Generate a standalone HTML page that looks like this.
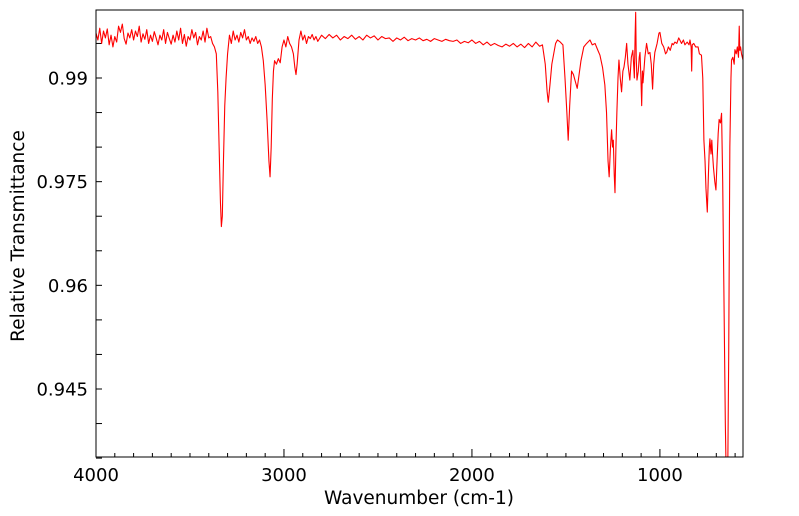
<!DOCTYPE html>
<html><head><meta charset="utf-8"><style>
html,body{margin:0;padding:0;background:#fff;}
svg{display:block;font-family:"DejaVu Sans","Liberation Sans",sans-serif;}
</style></head><body>
<svg id="chart" width="799" height="516" xmlns="http://www.w3.org/2000/svg">
<defs><clipPath id="clip"><rect x="96" y="10" width="647" height="447"/></clipPath></defs>
<g id="yticks"></g>
<g id="xticks"></g>
<path id="spectrum" clip-path="url(#clip)" fill="none" stroke="#ff0000" stroke-width="1.1" stroke-linejoin="round"/>
<rect x="96" y="10" width="647" height="447" fill="none" stroke="#000" stroke-width="1"/>
<text x="419" y="504" text-anchor="middle" font-size="18.5">Wavenumber (cm-1)</text>
<text x="0" y="0" transform="translate(24,236) rotate(-90)" text-anchor="middle" font-size="18.5">Relative Transmittance</text>
</svg>
<script>
const wavenumbers = [4000,3990,3980,3970,3960,3950,3940,3930,3920,3910,3900,3890,3880,3870,3860,3850,3840,3830,3820,3810,3800,3790,3780,3770,3760,3750,3740,3730,3720,3710,3700,3690,3680,3670,3660,3650,3640,3630,3620,3610,3600,3590,3580,3570,3560,3550,3540,3530,3520,3510,3500,3490,3480,3470,3460,3450,3440,3430,3420,3410,3400,3390,3380,3370,3360,3352,3345,3338,3333,3328,3322,3315,3308,3300,3290,3280,3270,3260,3250,3240,3230,3220,3210,3200,3190,3180,3170,3160,3150,3140,3130,3120,3110,3100,3090,3080,3074,3068,3062,3056,3050,3040,3030,3020,3010,3000,2990,2980,2970,2960,2950,2942,2936,2930,2920,2910,2900,2890,2880,2870,2860,2850,2840,2830,2820,2800,2780,2760,2740,2720,2700,2680,2660,2640,2620,2600,2580,2560,2540,2520,2500,2480,2460,2440,2420,2400,2380,2360,2340,2320,2300,2280,2260,2240,2220,2200,2180,2160,2140,2120,2100,2080,2060,2040,2020,2000,1980,1960,1940,1920,1900,1880,1860,1840,1820,1800,1780,1760,1740,1720,1700,1680,1660,1640,1625,1610,1600,1594,1585,1575,1565,1555,1545,1530,1516,1505,1495,1488,1480,1470,1460,1450,1440,1430,1420,1405,1390,1372,1360,1345,1330,1319,1305,1293,1284,1276,1270,1263,1257,1252,1248,1243,1239,1234,1229,1223,1218,1211,1204,1197,1191,1184,1177,1170,1160,1152,1144,1136,1132,1129,1126,1122,1115,1110,1106,1101,1097,1093,1090,1080,1071,1062,1053,1046,1039,1033,1027,1015,1005,1000,990,980,970,964,955,945,935,929,920,910,900,894,885,875,867,855,845,840,834,831,828,820,810,797,790,779,772,766,760,755,748,742,737,734,728,724,720,715,708,702,696,690,685,678,672,666,660,652,646,640,634,628,622,619,612,605,601,594,588,582,578,575,571,566,558];
const transmittance = [.9965,.9955,.9972,.9950,.9968,.9958,.9971,.9948,.9962,.9945,.9960,.9952,.9975,.9966,.9978,.9957,.9949,.9965,.9958,.9970,.9955,.9968,.9960,.9975,.9952,.9964,.9956,.9970,.9950,.9962,.9953,.9967,.9958,.9948,.9962,.9955,.9970,.9950,.9966,.9957,.9949,.9962,.9952,.9968,.9955,.9972,.9950,.9963,.9946,.9960,.9955,.9970,.9958,.9966,.9948,.9960,.9955,.9968,.9952,.9972,.9958,.9960,.9950,.9945,.9935,.9880,.9800,.9720,.9685,.9700,.9780,.9860,.9900,.9935,.9962,.9950,.9968,.9955,.9962,.9952,.9966,.9958,.9970,.9955,.9960,.9950,.9958,.9953,.9960,.9950,.9955,.9945,.9925,.9890,.9840,.9780,.9757,.9800,.9870,.9910,.9925,.9920,.9928,.9922,.9945,.9955,.9945,.9960,.9950,.9945,.9935,.9915,.9905,.9920,.9955,.9968,.9955,.9962,.9950,.9960,.9957,.9963,.9955,.9960,.9953,.9962,.9957,.9963,.9958,.9962,.9955,.9960,.9957,.9962,.9956,.9960,.9955,.9962,.9958,.9961,.9955,.9960,.9957,.9958,.9953,.9958,.9955,.9959,.9954,.9957,.9955,.9958,.9954,.9956,.9953,.9957,.9955,.9953,.9956,.9954,.9953,.9955,.9950,.9953,.9951,.9955,.9950,.9953,.9948,.9952,.9947,.9950,.9947,.9945,.9949,.9946,.9950,.9945,.9949,.9944,.9950,.9945,.9952,.9946,.9948,.9920,.9880,.9865,.9890,.9920,.9935,.9950,.9955,.9952,.9948,.9900,.9850,.9810,.9860,.9910,.9905,.9895,.9885,.9905,.9925,.9945,.9950,.9955,.9948,.9950,.9940,.9933,.9915,.9890,.9850,.9780,.9757,.9800,.9825,.9800,.9810,.9760,.9734,.9800,.9850,.9900,.9926,.9900,.9880,.9910,.9916,.9930,.9950,.9920,.9897,.9930,.9940,.9900,.9960,.9995,.9930,.9897,.9910,.9930,.9937,.9900,.9860,.9910,.9893,.9930,.9950,.9935,.9937,.9920,.9884,.9920,.9937,.9950,.9965,.9966,.9950,.9945,.9935,.9937,.9945,.9940,.9950,.9948,.9952,.9950,.9958,.9955,.9950,.9955,.9948,.9952,.9948,.9955,.9945,.9910,.9948,.9950,.9945,.9945,.9935,.9933,.9900,.9810,.9780,.9740,.9706,.9760,.9800,.9812,.9790,.9810,.9790,.9770,.9750,.9738,.9780,.9820,.9840,.9835,.9849,.9750,.9600,.9400,.9300,.9300,.9500,.9800,.9900,.9926,.9930,.9920,.9941,.9935,.9945,.9930,.9975,.9940,.9945,.9935,.9926];
const yTickLabels = ["0.945","0.96","0.975","0.99"];
const yTickValues = [0.945,0.96,0.975,0.99];
const xTickLabels = ["4000","3000","2000","1000"];
const xTickValues = [4000,3000,2000,1000];

const X0=96, X1=743, Y0=10, Y1=457;
const W_MAX=4000, W_MIN=558, V_MAX=0.99984, V_MIN=0.93516;
function xs(w){return X0+(W_MAX-w)/(W_MAX-W_MIN)*(X1-X0);}
function ys(v){return Y0+(V_MAX-v)/(V_MAX-V_MIN)*(Y1-Y0);}
const NS="http://www.w3.org/2000/svg";

let d="";
for(let i=0;i<wavenumbers.length;i++){d+=(i?"L":"M")+xs(wavenumbers[i]).toFixed(2)+","+ys(transmittance[i]).toFixed(2);}
document.getElementById("spectrum").setAttribute("d",d);

const yg=document.getElementById("yticks");
for(let k=0;k<=13;k++){
  const v=0.935+k*0.005; if(v>V_MAX) break;
  const y=ys(v);
  const t=document.createElementNS(NS,"line");
  
  
  t.setAttribute("x1",X0);t.setAttribute("x2",X0+6);t.setAttribute("y1",y);t.setAttribute("y2",y);t.setAttribute("stroke","#000");
  yg.appendChild(t);
}
for(let i=0;i<yTickValues.length;i++){
  const tx=document.createElementNS(NS,"text");
  
  
  tx.setAttribute("x",88);tx.setAttribute("y",ys(yTickValues[i])+6.5);tx.setAttribute("text-anchor","end");tx.setAttribute("font-size","18");
  tx.textContent=yTickLabels[i];yg.appendChild(tx);
}
const xg=document.getElementById("xticks");
for(let w=4000;w>=W_MIN;w-=100){
  const x=xs(w); const major=(w%1000===0);
  const t=document.createElementNS(NS,"line");
  
  
  t.setAttribute("x1",x);t.setAttribute("x2",x);t.setAttribute("y1",Y1);t.setAttribute("y2",Y1-(major?8:4));t.setAttribute("stroke","#000");
  xg.appendChild(t);
}
for(let i=0;i<xTickValues.length;i++){
  const tx=document.createElementNS(NS,"text");
  
  
  tx.setAttribute("x",xs(xTickValues[i]));tx.setAttribute("y",481);tx.setAttribute("text-anchor","middle");tx.setAttribute("font-size","18");
  tx.textContent=xTickLabels[i];xg.appendChild(tx);
}
</script>
</body></html>
